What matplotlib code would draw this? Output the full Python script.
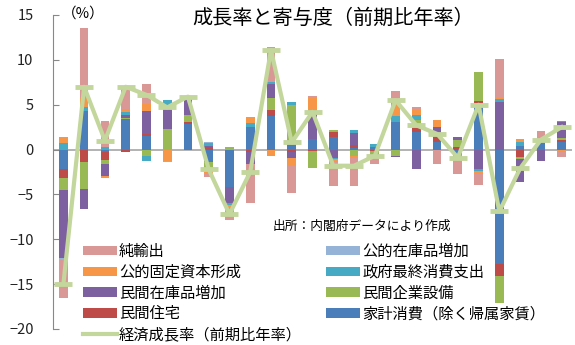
import numpy as np
import matplotlib
matplotlib.use('Agg')
import matplotlib.pyplot as plt
from matplotlib.patches import Patch
from matplotlib.lines import Line2D

plt.rcParams['font.family'] = ['Noto Sans CJK JP', 'DejaVu Sans']

# 25 quarters, contributions to growth (percentage points)
household = [-2.15, 4.3, -0.3, 3.4, 1.56, 0, 2.86, -1.4, -4.15, 2.5, 3.7, 0.9, 1.2,
             1.4, 0.2, 0.3, 3.05, 2.0, 0.8, -0.5, 5.1, -12.8, 0.4, 1.0, 0.8]
housing = [-1.05, -1.4, -0.9, -0.3, 0.2, 0, 0.2, 0.3, 0, -0.3, 0.74, -0.3, -0.2,
           0.55, 0.3, -0.2, 0, 0.4, 0.7, 0.3, 0.3, -1.3, -0.8, 0, 0.3]
capex = [-1.3, -3.0, -0.4, 0.1, -0.67, 2.3, 0.74, -0.75, 0.3, 0, 1.34, 4.1, -1.8,
         0.2, -0.7, -0.3, -0.67, 0.9, 0.4, 0.8, 3.23, -3.0, -0.25, 0, 0.2]
priv_inv = [-7.6, -2.2, -1.4, 0.4, 2.5, 2.6, 2.0, 0.15, -1.85, -1.3, 1.56, -0.6, 2.9,
            -0.9, 1.3, -0.3, -0.2, -2.15, 0.6, 0.25, -2.15, 5.28, -2.6, -1.23, 1.75]
gov_cons = [0.7, 0.4, 0.3, 0.3, -0.55, 0.6, 0, 0.3, -0.2, 0.45, 0.2, 0.3, 0.3,
            -0.2, 0.35, 0.35, 0.74, 0.6, 0, -0.1, -0.2, 0.33, 0.45, 0, 0.15]
pub_inv = [0.65, 1.1, -0.15, 0.3, 0.8, -1.3, 0, -0.5, -0.5, 0.7, -0.67, -0.9, 1.4,
           -0.3, -0.2, 0, 1.67, 0.5, 0.85, 0, -0.3, 0.15, 0.3, 0, -0.3]
pub_stock = [-0.25, 0, 0, 0, 0, -0.1, 0, 0.05, 0, 0, 0, 0, 0,
             0, 0, 0, 0, 0, 0, 0.05, 0, 0, 0, 0, 0]
net_exp = [-4.2, 7.8, 2.9, 2.5, 2.3, 0, 0, -0.4, -1.1, -4.4, 3.9, -3.0, 0.2,
           -2.7, -3.2, -0.8, 1.04, 0.3, -1.6, -2.1, -1.26, 4.35, 0, 1.1, -0.55]
growth = [-15.0, 7.0, 1.0, 7.0, 6.1, 4.7, 5.9, -2.2, -7.2, -2.5, 11.1, 0.8, 4.2,
          -1.8, -1.8, -0.7, 5.5, 2.7, 1.75, -0.9, 5.0, -6.9, -2.1, 1.1, 2.5]

# stacking order (bottom first) with labels and colours
series = [
    ('家計消費（除く帰属家賃）', household, '#4A7EBB'),
    ('民間住宅', housing, '#BE4B48'),
    ('民間企業設備', capex, '#98B954'),
    ('民間在庫品増加', priv_inv, '#7D60A0'),
    ('政府最終消費支出', gov_cons, '#46AAC5'),
    ('公的固定資本形成', pub_inv, '#F79646'),
    ('公的在庫品増加', pub_stock, '#95B3D7'),
    ('純輸出', net_exp, '#D99795'),
]
line_label = '経済成長率（前期比年率）'
line_color = '#C3D69B'

fig = plt.figure(figsize=(5.75, 3.45), dpi=100)
ax = fig.add_axes([53 / 575, 16 / 345, 519 / 575, 314 / 345])

x = np.arange(len(growth))
pos_bottom = np.zeros(len(x))
neg_bottom = np.zeros(len(x))
handles = {}
for label, vals, color in series:
    v = np.array(vals, dtype=float)
    bottom = np.where(v >= 0, pos_bottom, neg_bottom)
    ax.bar(x, v, 0.42, bottom=bottom, color=color, zorder=2)
    pos_bottom += np.clip(v, 0, None)
    neg_bottom += np.clip(v, None, 0)
    handles[label] = Patch(facecolor=color)

ax.plot(x, growth, color=line_color, lw=3, marker='_', ms=13, mew=3.5, zorder=3)
ax.axhline(0, color='#A6A6A6', lw=1.2, zorder=1)

ax.set_xlim(-0.5, len(x) - 0.5)
ax.set_ylim(-20, 15)
ax.set_yticks(range(-20, 16, 5))
ax.set_xticks([])
for s in ['top', 'right', 'bottom']:
    ax.spines[s].set_visible(False)
ax.spines['left'].set_color('#888888')
ax.tick_params(axis='y', direction='in', length=4, color='#888888',
               labelsize=10.5, labelcolor='#222222', pad=14)

fig.text(62 / 575, 1 - 14 / 345, '（%）', fontsize=10.5, va='center', ha='left')
fig.text(333 / 575, 1 - 18 / 345, '成長率と寄与度（前期比年率）', fontsize=14.5,
         va='center', ha='center')
fig.text(273 / 575, 1 - 226 / 345, '出所：内閣府データにより作成', fontsize=9.2,
         va='center', ha='left')

order = ['純輸出', '公的固定資本形成', '民間在庫品増加', '民間住宅', line_label,
         '公的在庫品増加', '政府最終消費支出', '民間企業設備', '家計消費（除く帰属家賃）']
handles[line_label] = Line2D([], [], color=line_color, lw=3)
fig.legend([handles[k] for k in order], order, ncol=2, loc='upper left',
           bbox_to_anchor=(83 / 575, 1 - 243 / 345), frameon=False, fontsize=11,
           handlelength=2.2, handleheight=0.6, handletextpad=0.15,
           columnspacing=1.6, labelspacing=0.25, borderpad=0, borderaxespad=0)

fig.savefig('out.png', dpi=100)
plt.close('all')
